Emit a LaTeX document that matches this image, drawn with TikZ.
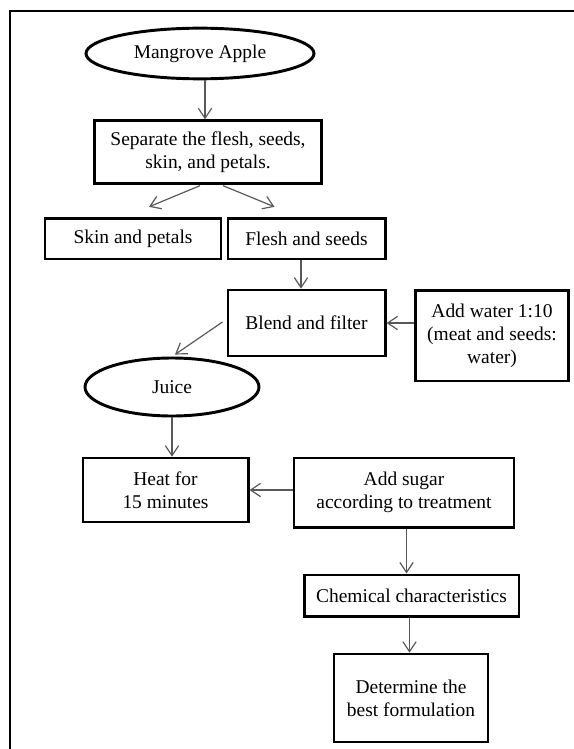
\documentclass[tikz,border=0pt]{standalone}
\usepackage{fontspec}
\setmainfont{Liberation Serif}
\usetikzlibrary{shapes.geometric,arrows.meta,calc}
\begin{document}
\begin{tikzpicture}[x=0.75pt,y=-0.75pt,
  every node/.style={font=\fontsize{14.6}{17.2}\selectfont, align=center, inner sep=0pt},
  boxst/.style={draw=black, line width=2pt, rectangle},
  ovalst/.style={draw=black, line width=2.2pt, ellipse},
  arr/.style={draw=black!65, line width=0.9pt, -{Straight Barb[length=7.5pt,width=10pt,line width=0.9pt]}}]
\useasboundingbox (0,0) rectangle (574,749);
\draw[line width=0.8pt] (574,11) -- (10,11) -- (10,749);

\node[ovalst, minimum width=171pt, minimum height=38pt] (m) at (200,53.5) {Mangrove Apple};
\node[boxst, minimum width=170pt, minimum height=47pt] (sep) at (208,152) {Separate the flesh, seeds,\\skin, and petals.};
\node[boxst, minimum width=132pt, minimum height=30.5pt] (skin) at (133,238.5) {Skin and petals};
\node[boxst, minimum width=118pt, minimum height=30.5pt] (flesh) at (306.5,238.5) {Flesh and seeds};
\node[boxst, minimum width=118pt, minimum height=49.5pt] (blend) at (306.5,323) {Blend and filter};
\node[boxst, minimum width=115pt, minimum height=68pt] (water) at (492,335.5) {Add water 1:10\\(meat and seeds:\\water)};
\node[ovalst, minimum width=130.5pt, minimum height=43.5pt] (juice) at (172,387) {Juice};
\node[boxst, minimum width=124pt, minimum height=48pt] (heat) at (165.5,490) {Heat for\\15 minutes};
\node[boxst, minimum width=165pt, minimum height=52pt] (sugar) at (404,492.5) {Add sugar\\according to treatment};
\node[boxst, minimum width=161pt, minimum height=31pt] (chem) at (411.5,595.5) {Chemical characteristics};
\node[boxst, minimum width=115.5pt, minimum height=66pt] (det) at (411,698) {Determine the\\best formulation};

\coordinate (a1) at ($(m.south)+(5,0)$);
\coordinate (a2) at ($(flesh.south)+(-5.5,0)$);
\coordinate (a3) at ($(sugar.south)+(2.5,0)$);
\coordinate (a4) at ($(chem.south)+(-2,0)$);
\coordinate (b1) at ($(sep.south)+(-8,1)$);
\coordinate (b2) at ($(skin.north)+(16,-10)$);
\coordinate (b3) at ($(sep.south)+(15,1)$);
\coordinate (b4) at ($(flesh.north)+(-32,-10)$);
\coordinate (b5) at ($(blend.west)+(-4,-1)$);
\coordinate (b6) at ($(juice.north)+(3,-2)$);

\draw[arr] (a1) -- (a1 |- sep.north);
\draw[arr] (b1) -- (b2);
\draw[arr] (b3) -- (b4);
\draw[arr] (a2) -- (a2 |- blend.north);
\draw[arr] (water.west |- blend.east) -- (blend.east);
\draw[arr] (b5) -- (b6);
\draw[arr] (juice.south) -- (juice.south |- heat.north);
\draw[arr] (sugar.west |- heat.east) -- (heat.east);
\draw[arr] (a3) -- (a3 |- chem.north);
\draw[arr] (a4) -- (a4 |- det.north);
\end{tikzpicture}
\end{document}
